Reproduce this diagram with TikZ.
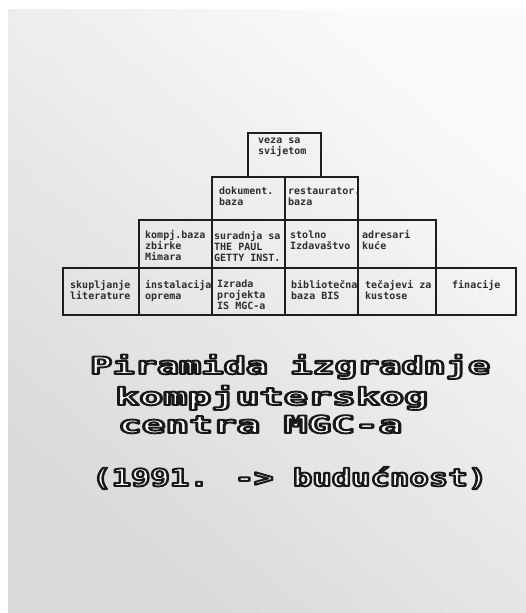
\documentclass[tikz,border=0pt]{standalone}
\usepackage{fontspec}
\usepackage{graphicx}
\newfontfamily\cellfont{DejaVu Sans Mono}
\newfontfamily\titlefont{DejaVu Sans Mono}
\definecolor{ink}{HTML}{1E1E1E}
\definecolor{cellink}{HTML}{2E2E2E}
\newcommand\ttext[2]{\resizebox{#1}{\height}{\titlefont\bfseries\fontsize{24bp}{24bp}\selectfont\color{white}\special{pdf:literal direct 2 Tr 1.9 w 0.1 G 1 j}#2\special{pdf:literal direct 0 Tr}}}
\tikzset{
  cell/.style={draw=ink, line width=1.2bp, inner sep=0pt, outer sep=0pt},
  lbl/.style={anchor=north west, inner sep=0pt, align=left, text=cellink,
    font=\cellfont\bfseries\fontsize{10bp}{11bp}\selectfont},
  ttl/.style={anchor=base west, inner sep=0pt}
}
\begin{document}
\begin{tikzpicture}[x=1bp,y=-1bp]
\useasboundingbox (0,0) rectangle (526,613);
\fill[white] (0,0) rectangle (526,613);
\shade[top color=black!2, bottom color=black!15, shading angle=-40] (8,10) rectangle (526,613);
% row 1
\node[cell, minimum width=73bp, minimum height=44bp] (c11) at (284.5,155) {};
% row 2
\node[cell, minimum width=73bp, minimum height=43bp] (c21) at (248.5,198.5) {};
\node[cell, minimum width=73bp, minimum height=43bp] (c22) at (321.5,198.5) {};
% row 3
\node[cell, minimum width=73bp, minimum height=48bp] (c31) at (175.5,244) {};
\node[cell, minimum width=73bp, minimum height=48bp] (c32) at (248.5,244) {};
\node[cell, minimum width=73bp, minimum height=48bp] (c33) at (321.5,244) {};
\node[cell, minimum width=78bp, minimum height=48bp] (c34) at (397,244) {};
% row 4
\node[cell, minimum width=76bp, minimum height=47bp] (c41) at (101,291.5) {};
\node[cell, minimum width=73bp, minimum height=47bp] (c42) at (175.5,291.5) {};
\node[cell, minimum width=73bp, minimum height=47bp] (c43) at (248.5,291.5) {};
\node[cell, minimum width=73bp, minimum height=47bp] (c44) at (321.5,291.5) {};
\node[cell, minimum width=78bp, minimum height=47bp] (c45) at (397,291.5) {};
\node[cell, minimum width=80bp, minimum height=47bp] (c46) at (476,291.5) {};
% labels
\node[lbl] (t11) at ([shift={(10bp,-5bp)}]c11.north west) {veza sa\\svijetom};
\node[lbl] (t21) at ([shift={(7bp,-10bp)}]c21.north west) {dokument.\\baza};
\node[lbl] (t22) at ([shift={(3bp,-10bp)}]c22.north west) {restaurator.\\baza};
\node[lbl] (t31) at ([shift={(6bp,-10bp)}]c31.north west) {kompj.baza\\zbirke\\Mimara};
\node[lbl] (t32) at ([shift={(2bp,-11bp)}]c32.north west) {suradnja sa\\THE PAUL\\GETTY INST.};
\node[lbl] (t33) at ([shift={(5bp,-11bp)}]c33.north west) {stolno\\Izdavaštvo};
\node[lbl] (t34) at ([shift={(4bp,-10bp)}]c34.north west) {adresari\\kuće};
\node[lbl] (t41) at ([shift={(7bp,-12bp)}]c41.north west) {skupljanje\\literature};
\node[lbl] (t42) at ([shift={(6bp,-12bp)}]c42.north west) {instalacija\\oprema};
\node[lbl] (t43) at ([shift={(5bp,-12bp)}]c43.north west) {Izrada\\projekta\\IS MGC-a};
\node[lbl] (t44) at ([shift={(6bp,-12bp)}]c44.north west) {bibliotečna\\baza BIS};
\node[lbl] (t45) at ([shift={(7bp,-12bp)}]c45.north west) {tečajevi za\\kustose};
\node[lbl] (t46) at ([shift={(16bp,-12bp)}]c46.north west) {finacije};
% title
\node[ttl] (h1) at (90,374) {\ttext{400bp}{Piramida izgradnje}};
\node[ttl] (h2) at (115,405) {\ttext{313bp}{kompjuterskog}};
\node[ttl] (h3) at (118,433) {\ttext{284bp}{centra MGC-a}};
\node[ttl] (h4) at (92,486) {\ttext{395bp}{(1991. -> budućnost)}};
\end{tikzpicture}
\end{document}
